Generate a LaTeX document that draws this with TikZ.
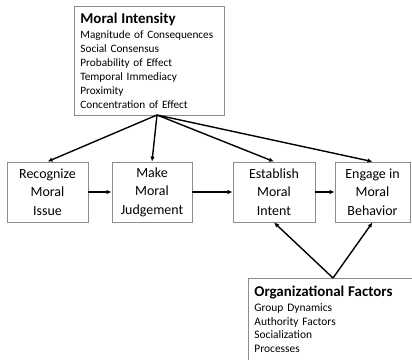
\documentclass[tikz,border=0pt]{standalone}
\usepackage{fontspec}
\setmainfont{Carlito}
\usetikzlibrary{arrows.meta}
\tikzset{
  stepbox/.style={draw=black!45, line width=0.8bp, minimum height=60bp, align=center,
    font=\fontsize{14}{18.5}\selectfont, inner sep=0pt},
  infobox/.style={draw=black!45, line width=0.8bp, align=left, anchor=north west,
    inner xsep=6bp},
  flow/.style={-{Latex[length=5bp,width=4.5bp]}, line width=1.4bp},
}
\begin{document}
\begin{tikzpicture}[x=1bp,y=-1bp]
\clip (0,0) rectangle (412,360);
% Moral intensity box
\node[infobox, minimum width=150bp, minimum height=109bp, text width=138bp,
    font=\fontsize{11.3}{14}\selectfont] (intensity) at (74,6)
  {{\fontsize{15}{16}\selectfont\bfseries Moral Intensity}\\[1bp]
   Magnitude of Consequences\\ Social Consensus\\ Probability of Effect\\
   Temporal Immediacy\\ Proximity\\ Concentration of Effect};
\coordinate (mitop) at (157,115);
% decision steps
\foreach \x/\w/\n/\t in {47.5/81/recognize/{Recognize\\Moral\\Issue},
    152/80/judge/{Make\\Moral\\Judgement}, 274/82/intent/{Establish\\Moral\\Intent},
    372.5/75/behave/{Engage in\\Moral\\Behavior}} {
  \node[stepbox, minimum width=\w bp] (\n) at (\x,192) {\t};
  \draw[flow] (mitop) -- (\n.north);
}
\draw[flow] (recognize) -- (judge);
\draw[flow] (judge) -- (intent);
\draw[flow] (intent) -- (behave);
% Organizational factors box
\node[infobox, inner ysep=8bp, text width=170bp,
    font=\fontsize{11.5}{13.5}\selectfont] (org) at (248,278)
  {{\fontsize{15}{16}\selectfont\bfseries Organizational Factors}\\[1.5bp]
   Group Dynamics\\ Authority Factors\\ Socialization\\ Processes};
\coordinate (orgtop) at (333,278);
\draw[flow] (orgtop) -- (intent.south);
\draw[flow] (orgtop) -- (behave.south);
\end{tikzpicture}
\end{document}
